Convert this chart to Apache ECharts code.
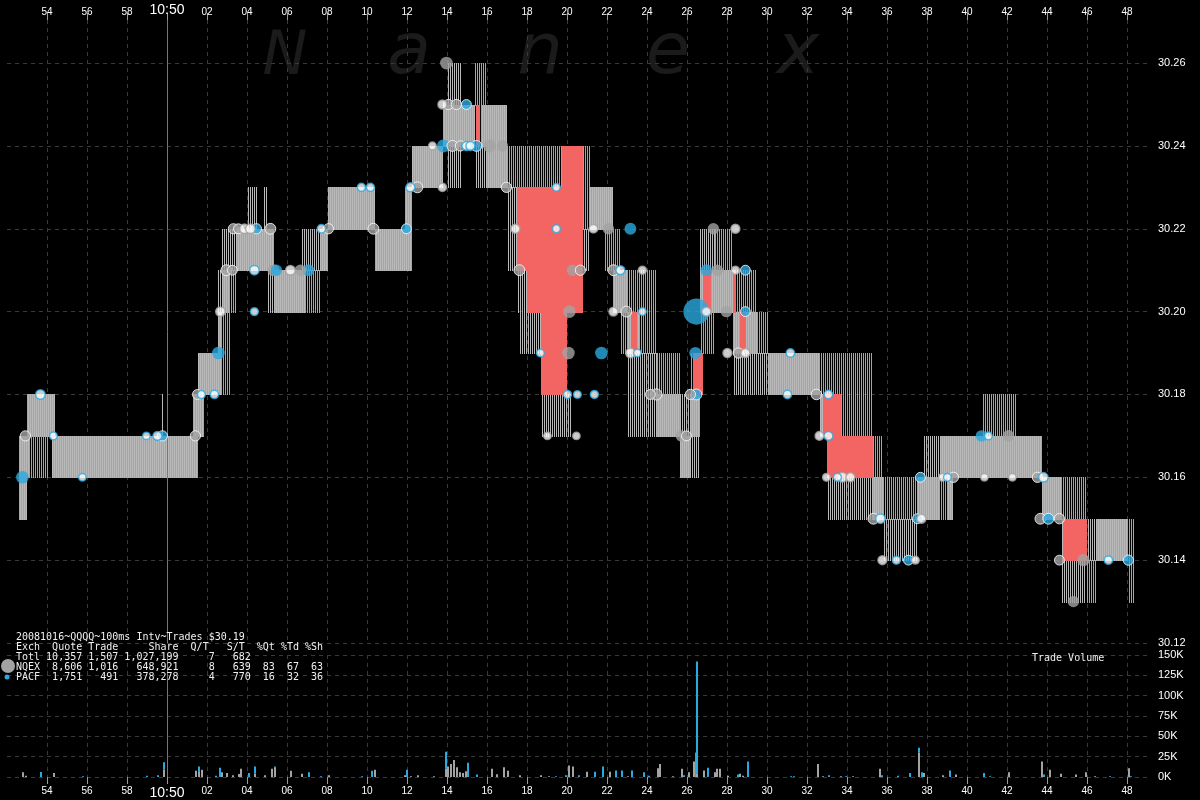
<!DOCTYPE html>
<html><head><meta charset="utf-8">
<script src="https://cdn.jsdelivr.net/npm/echarts@6/dist/echarts.min.js"></script>
<style>html,body{margin:0;padding:0;background:#000}#c{width:1200px;height:800px}</style>
</head><body><div id="c"></div>
<script>
// ---------- DATA (time = seconds after 10:49:00, price in $) ----------
const priceTicks = [30.12,30.14,30.16,30.18,30.20,30.22,30.24,30.26];

// quote segments: [start, end, NQEX low, NQEX high, PACF low, PACF high]
const quoteSegments = [
[52.62,53.02,30.15,30.17,30.15,30.17],
[53.02,53.17,30.16,30.18,30.16,30.18],
[53.17,54.07,30.17,30.18,30.16,30.18],
[54.07,54.27,30.17,30.18,30.17,30.18],
[54.27,54.42,30.16,30.18,30.16,30.18],
[54.42,59.77,30.16,30.17,30.16,30.17],
[59.77,59.87,30.16,30.18,30.16,30.17],
[59.87,61.32,30.16,30.17,30.16,30.17],
[61.32,61.57,30.16,30.18,30.16,30.18],
[61.57,61.87,30.17,30.19,30.17,30.19],
[61.87,62.57,30.18,30.19,30.18,30.19],
[62.57,62.77,30.18,30.21,30.18,30.20],
[62.77,63.17,30.20,30.22,30.18,30.21],
[63.17,63.52,30.21,30.22,30.20,30.21],
[63.52,64.07,30.21,30.22,30.21,30.22],
[64.07,64.57,30.21,30.23,30.21,30.22],
[64.57,64.87,30.21,30.22,30.21,30.22],
[64.87,65.07,30.21,30.23,30.21,30.22],
[65.07,65.37,30.20,30.22,30.21,30.22],
[65.37,66.77,30.20,30.21,30.20,30.21],
[66.77,66.97,30.20,30.22,30.20,30.21],
[66.97,67.67,30.21,30.22,30.20,30.21],
[67.67,68.07,30.21,30.22,30.21,30.22],
[68.07,70.42,30.22,30.23,30.22,30.23],
[70.42,71.92,30.21,30.22,30.21,30.22],
[71.92,72.27,30.21,30.23,30.21,30.23],
[72.27,73.82,30.23,30.24,30.23,30.24],
[73.82,74.02,30.24,30.25,30.24,30.25],
[74.02,74.77,30.23,30.26,30.24,30.25],
[74.77,75.42,30.24,30.25,30.24,30.25],
[75.42,75.72,30.23,30.24,30.25,30.26],
[75.72,75.97,30.23,30.25,30.24,30.26],
[75.97,77.02,30.23,30.25,30.23,30.25],
[77.02,77.52,30.21,30.23,30.23,30.24],
[77.52,77.67,30.20,30.23,30.23,30.24],
[77.67,78.07,30.19,30.21,30.23,30.24],
[78.07,78.72,30.19,30.20,30.23,30.24],
[78.72,79.77,30.17,30.18,30.23,30.24],
[79.77,80.27,30.17,30.18,null,null],
[80.27,80.77,30.20,30.22,null,null],
[80.77,81.17,30.21,30.22,30.22,30.24],
[81.17,81.92,30.22,30.23,30.22,30.23],
[81.92,82.32,30.22,30.23,30.21,30.23],
[82.32,82.67,30.20,30.21,30.20,30.22],
[82.67,83.07,30.20,30.21,30.19,30.21],
[83.07,83.67,30.17,30.20,30.19,30.21],
[83.67,84.52,30.17,30.19,30.19,30.21],
[84.52,85.67,30.17,30.18,30.17,30.19],
[85.67,86.17,30.16,30.18,30.16,30.17],
[86.17,86.67,30.16,30.18,30.17,30.19],
[86.67,87.42,30.20,30.22,30.19,30.21],
[87.42,88.32,30.20,30.21,30.20,30.22],
[88.32,88.57,30.18,30.20,30.19,30.21],
[88.57,89.52,30.18,30.20,30.19,30.21],
[89.52,90.07,30.18,30.19,30.19,30.20],
[90.07,92.67,30.18,30.19,30.18,30.19],
[92.67,93.02,30.17,30.18,30.17,30.19],
[93.02,93.67,30.15,30.17,30.17,30.19],
[93.67,95.27,30.15,30.16,30.17,30.19],
[95.27,95.82,30.15,30.16,30.15,30.17],
[95.82,97.52,30.14,30.15,30.15,30.16],
[97.52,97.87,30.15,30.16,30.15,30.16],
[97.87,98.67,30.15,30.17,30.15,30.16],
[98.67,99.07,30.16,30.17,30.15,30.17],
[99.07,99.32,30.15,30.17,30.15,30.17],
[99.32,100.82,30.16,30.17,30.16,30.17],
[100.82,102.47,30.16,30.17,30.16,30.18],
[102.47,103.77,30.16,30.17,30.16,30.17],
[103.77,104.77,30.15,30.16,30.15,30.16],
[104.77,105.97,30.13,30.15,30.15,30.16],
[105.97,106.52,30.14,30.15,30.13,30.14],
[106.52,108.07,30.14,30.15,30.14,30.15],
[108.07,108.37,null,null,30.13,30.15]
];

// crossed quote spans: [start, end, low, high]
const crossedSpans = [
[75.45,75.65,30.24,30.25],
[77.52,79.77,30.21,30.23],
[78.02,80.40,30.20,30.21],
[78.72,80.02,30.18,30.20],
[79.77,80.80,30.20,30.24],
[83.20,83.50,30.19,30.20],
[86.30,86.80,30.18,30.19],
[86.80,87.20,30.20,30.21],
[88.30,88.45,30.20,30.21],
[88.65,88.95,30.19,30.20],
[92.80,93.70,30.17,30.18],
[93.00,95.30,30.16,30.17],
[104.80,106.00,30.14,30.15]
];

// trades: [time, price, exchange, shares]
const trades = [
[52.77,30.16,'P',8000],[52.92,30.17,'N',3000],[53.67,30.18,'P',2000],[54.32,30.17,'P',600],
[55.77,30.16,'P',500],[58.97,30.17,'P',500],[59.52,30.17,'P',1500],[59.77,30.17,'P',3000],
[61.42,30.17,'N',3000],[61.52,30.18,'N',2500],[61.72,30.18,'P',700],[62.37,30.18,'P',900],
[62.57,30.19,'P',8000],[62.67,30.20,'N',2000],[64.37,30.20,'P',700],[62.97,30.21,'N',4000],
[63.27,30.21,'N',2500],[64.37,30.21,'P',2000],[65.32,30.21,'N',6000],[65.47,30.21,'P',5000],
[66.17,30.21,'N',2000],[66.67,30.21,'N',5000],[67.07,30.21,'P',6000],[63.32,30.22,'N',3000],
[63.57,30.22,'N',2500],[63.87,30.22,'N',2000],[64.17,30.22,'N',2000],[64.47,30.22,'P',3000],
[65.17,30.22,'N',4000],[67.72,30.22,'P',1000],[68.07,30.22,'N',3000],[69.72,30.23,'P',800],
[70.17,30.23,'P',800],[70.32,30.22,'N',4000],[71.97,30.22,'P',2500],[72.17,30.23,'P',1500],
[72.52,30.23,'N',4000],[73.77,30.23,'N',1000],[73.27,30.24,'N',600],[73.82,30.24,'P',9000],
[74.27,30.24,'N',4000],[74.67,30.24,'N',3000],[74.97,30.24,'P',1500],[75.17,30.24,'P',1500],
[75.47,30.24,'P',4000],[76.12,30.24,'N',9000],[76.77,30.24,'N',5000],[73.77,30.25,'N',1500],
[74.07,30.25,'N',3000],[74.47,30.25,'N',3000],[74.97,30.25,'P',2500],[73.97,30.26,'N',8000],
[76.97,30.23,'N',3000],[79.47,30.23,'P',600],[79.47,30.22,'P',700],[77.42,30.22,'N',1500],
[77.62,30.21,'N',4000],[80.27,30.21,'N',5000],[80.67,30.21,'N',3000],[81.32,30.22,'N',1200],
[82.07,30.22,'N',5000],[83.17,30.22,'P',6000],[80.12,30.20,'N',8000],[80.07,30.19,'N',8000],
[81.72,30.19,'P',8000],[78.67,30.19,'P',600],[80.02,30.18,'P',800],[80.52,30.18,'P',600],
[81.37,30.18,'P',800],[79.02,30.17,'N',500],[80.47,30.17,'N',500],[82.32,30.21,'N',4000],
[82.67,30.21,'P',1500],[83.77,30.21,'N',800],[82.32,30.20,'N',1500],[82.97,30.20,'N',4000],
[83.77,30.20,'P',600],[83.17,30.19,'N',2000],[83.52,30.19,'P',600],[86.47,30.20,'P',138000],
[86.97,30.20,'N',1500],[86.97,30.21,'P',6000],[87.52,30.21,'N',5000],[88.42,30.21,'N',800],
[88.92,30.21,'P',2500],[87.32,30.22,'N',5000],[88.42,30.22,'N',1500],[87.97,30.20,'N',5000],
[88.92,30.20,'P',2500],[86.42,30.19,'P',7000],[88.02,30.19,'N',1500],[88.57,30.19,'N',3000],
[88.92,30.19,'N',1500],[91.17,30.19,'P',1000],[85.72,30.17,'N',5000],[85.97,30.17,'N',2500],
[86.47,30.18,'P',4000],[86.17,30.18,'N',3000],[84.47,30.18,'N',4500],[84.17,30.18,'N',2500],
[91.02,30.18,'P',1000],[92.47,30.18,'N',3500],[93.07,30.18,'P',1000],[92.62,30.17,'N',1200],
[93.07,30.17,'P',1500],[92.97,30.16,'N',600],[93.52,30.16,'P',800],[93.77,30.16,'N',2000],
[94.17,30.16,'N',1500],[97.67,30.16,'P',2500],[98.77,30.16,'N',600],[99.02,30.16,'P',600],
[99.32,30.16,'N',3000],[100.87,30.16,'N',500],[102.27,30.16,'N',500],[103.52,30.16,'N',3000],
[103.82,30.16,'P',2000],[100.72,30.17,'P',5000],[101.07,30.17,'P',600],[102.07,30.17,'N',6000],
[95.32,30.15,'N',4000],[95.67,30.15,'P',2000],[97.52,30.15,'P',2500],[97.72,30.15,'N',1500],
[95.77,30.14,'N',1500],[96.47,30.14,'P',800],[97.07,30.14,'P',2500],[97.42,30.14,'N',600],
[103.67,30.15,'N',4000],[104.07,30.15,'P',4000],[104.62,30.15,'N',3000],[104.62,30.14,'N',2500],
[105.82,30.14,'N',7000],[107.07,30.14,'P',1000],[108.07,30.14,'P',3000],[105.32,30.13,'N',5000]
];

// trade volume per 100ms interval: [time, NQEX shares, PACF shares]
const volumes = [
[52.77,5700,0],[52.92,1500,0],[53.67,0,6000],[54.32,5000,0],[55.77,0,1000],[58.97,0,1600],
[59.52,0,2000],[59.82,9000,9000],[61.42,7800,0],[61.57,6000,7000],[61.72,9000,0],[62.42,0,1500],
[62.62,0,11500],[62.72,5700,0],[62.97,5000,0],[63.27,2000,0],[63.57,3700,0],[63.67,10000,0],
[64.07,0,5000],[64.37,4000,9000],[64.87,2000,0],[65.22,10000,0],[65.37,11000,2000],[66.17,7800,0],
[66.72,4000,0],[67.07,0,5700],[67.67,0,1000],[68.07,2000,0],[69.72,0,1000],[70.22,0,7800],
[70.37,9000,0],[71.87,2000,0],[71.97,0,9000],[72.17,1000,0],[72.52,2000,0],[73.32,1000,0],
[73.92,10000,21000],[74.02,13000,0],[74.17,16000,0],[74.32,21000,0],[74.47,12000,0],[74.62,5700,0],
[74.77,5000,0],[74.92,7000,0],[75.02,0,17600],[75.47,0,3000],[76.22,10000,0],[76.47,3500,0],
[76.82,12000,0],[77.02,7800,0],[77.62,2000,0],[78.67,2000,0],[79.07,1000,0],[79.42,0,1000],
[79.92,0,2000],[80.07,14000,0],[80.27,13000,0],[80.57,0,2000],[80.97,6500,0],[81.37,0,6500],
[81.77,0,13000],[82.12,6500,0],[82.42,0,8000],[82.72,0,8000],[83.02,1000,0],[83.22,0,8000],
[83.82,0,5700],[84.07,0,1600],[84.52,10700,0],[84.62,16000,0],[85.27,1000,0],[85.72,10000,0],
[85.82,0,2000],[86.07,5700,0],[86.32,19000,0],[86.42,0,30000],[86.47,4000,138000],[86.82,8000,0],
[87.02,0,11500],[87.37,5700,0],[87.47,10000,0],[87.62,10000,0],[88.02,1500,0],[88.52,0,3000],
[88.62,4000,0],[88.77,1500,0],[89.02,0,19000],[91.17,0,1000],[91.32,0,1000],[92.52,16000,0],
[92.77,1000,0],[93.07,0,2000],[93.67,1000,0],[93.92,0,1000],[94.27,1000,0],[95.62,10000,0],
[95.72,0,2000],[96.52,0,1500],[97.12,0,5000],[97.57,30000,6000],[97.72,0,5700],[97.82,5000,0],
[98.77,2000,0],[99.12,0,8000],[99.42,3000,0],[100.82,0,5000],[101.12,0,1000],[102.07,5700,0],
[103.72,19000,0],[103.82,0,3000],[104.12,9000,0],[104.67,4000,0],[105.42,3000,0],[105.92,5700,0],
[106.37,1000,0],[107.12,0,1000],[108.07,10700,0],[108.17,0,1000]
];

const tableTitle = '20081016~QQQQ~100ms Intv~Trades $30.19';
const tableHeader = ['Exch','Quote','Trade','Share','Q/T','S/T','%Qt','%Td','%Sh'];
const tableRows = [
['Totl','10,357','1,507','1,027,199','7','682','','',''],
['NQEX','8,606','1,016','648,921','8','639','83','67','63'],
['PACF','1,751','491','378,278','4','770','16','32','36']
];
const watermark = ['N','a','n','e','x'];

// ---------- STYLE ----------
const Q_GRAY='#b9b9b9', Q_CYAN='#4cc4ee', RED='#f36562', DOT_GRAY='#a3a3a3', DOT_CYAN='#2aa9e0';
const GRID_LINE={color:'#3a3a3a',type:[4,4],width:1};

function fmtTime(v){const s=Math.round(v); if(s===60) return '{big|10:50}'; return String(s%60).padStart(2,'0');}
function pad(row, ends){
  let s=row[0].padEnd(4,' ');
  for(let i=1;i<row.length;i++){ s=s.padEnd(ends[i]-row[i].length,' ')+row[i]; }
  return s;
}
const headEnds=[4,11,17,27,32,38,43,47,51];
const rowEnds=[4,11,17,27,33,39,43,47,51];
const tableLines=[tableTitle, pad(tableHeader,headEnds)].concat(tableRows.map(r=>pad(r,rowEnds).replace(/\s+$/,'')));

// 1-px column patterns: NQEX quote on even pixel columns, PACF on odd ones
function makePattern(color, parity){
  const c=document.createElement('canvas'); c.width=2; c.height=1;
  const g=c.getContext('2d'); g.fillStyle=color; g.fillRect(parity,0,1,1);
  return {image:c, repeat:'repeat'};
}
const patN=makePattern(Q_GRAY,0), patP=makePattern(Q_CYAN,1);
function makeQuoteRenderer(isP){
  return function(params, api){
    const seg=quoteSegments[params.dataIndex];
    const lo=isP?seg[4]:seg[2], hi=isP?seg[5]:seg[3];
    if(lo==null) return {type:'group',children:[]};
    const x0=Math.round(api.coord([seg[0],lo])[0]), x1=Math.round(api.coord([seg[1],lo])[0]);
    const yt=Math.round(api.coord([seg[0],hi])[1]), yb=Math.round(api.coord([seg[0],lo])[1]);
    return {type:'rect',shape:{x:x0,y:yt,width:x1-x0,height:yb-yt+1},style:{fill:isP?patP:patN}};
  };
}
function renderCross(params, api){
  const c=crossedSpans[params.dataIndex];
  const p0=api.coord([c[0],c[3]]), p1=api.coord([c[1],c[2]]);
  const x0=Math.round(p0[0]), x1=Math.round(p1[0]), y0=Math.round(p0[1]), y1=Math.round(p1[1]);
  return {type:'rect',shape:{x:x0,y:y0,width:x1-x0,height:y1-y0+1},style:{fill:RED}};
}
function renderVol(params, api){
  const v=volumes[params.dataIndex];
  const base=api.coord([v[0],0]);
  const x=Math.round(base[0]);
  const yN=api.coord([v[0],v[1]])[1];
  const yP=api.coord([v[0],v[1]+v[2]])[1];
  const kids=[];
  if(v[1]>0) kids.push({type:'rect',shape:{x:x,y:yN,width:2,height:base[1]-yN},style:{fill:DOT_GRAY}});
  if(v[2]>0) kids.push({type:'rect',shape:{x:x,y:yP,width:2,height:yN-yP},style:{fill:DOT_CYAN}});
  return {type:'group',children:kids};
}

const tradeData=trades.slice().sort((a,b)=>b[3]-a[3]).map(([t,p,ex,sz])=>{
  const col=ex==='N'?DOT_GRAY:DOT_CYAN;
  const r=2+Math.pow(sz,0.33)/4.5;
  return {value:[t,p],symbolSize:2*r,
    itemStyle: sz>=2500?{color:col,borderColor:'#ffffff',borderWidth:sz>=5000?0:1}:{color:'#ffffff',borderColor:col,borderWidth:1.5}};
});

const xAxisBase={type:'value',min:52,max:109,interval:2,
  axisLine:{show:false},
  axisTick:{show:true,length:7,lineStyle:{color:'#9a9a9a'}},
  splitLine:{show:true,showMinLine:false,showMaxLine:false,lineStyle:GRID_LINE}};

const wmX=[285,409,540,668,798];
const graphics=[];
watermark.forEach((ch,i)=>graphics.push({type:'text',z:-10,x:wmX[i],y:i===0?88:90,
  style:{text:ch,fill:'#1b1b1b',font:'italic '+(i===0?60:72)+'px "DejaVu Sans"',textAlign:'center',textVerticalAlign:'bottom'}}));
tableLines.forEach((ln,i)=>graphics.push({type:'text',z:100,x:16,y:637+i*10,
  style:{text:ln,fill:'#f0f0f0',font:'10px "DejaVu Sans Mono"',textVerticalAlign:'middle'}}));
graphics.push({type:'circle',z:100,shape:{cx:8,cy:666,r:7},style:{fill:DOT_GRAY}});
graphics.push({type:'circle',z:100,shape:{cx:7,cy:677,r:2.5},style:{fill:DOT_CYAN}});
graphics.push({type:'text',z:100,x:1032,y:658,style:{text:'Trade Volume',fill:'#f0f0f0',font:'10px "DejaVu Sans Mono"',textVerticalAlign:'middle'}});

const minuteLine={silent:true,symbol:'none',label:{show:false},lineStyle:{color:'#777',type:'solid',width:1},data:[{xAxis:60}]};
const segData=quoteSegments.map(s=>{const v=[s[2],s[3],s[4],s[5]].filter(x=>x!=null);return [s[0],s[1],Math.min(...v),Math.max(...v)];});

const chart=echarts.init(document.getElementById('c'),null,{renderer:'canvas'});
chart.setOption({
  backgroundColor:'#000',
  animation:false,
  grid:[{left:7,width:1140,top:20,height:623},{left:7,width:1140,top:655,height:122}],
  xAxis:[
    Object.assign({},xAxisBase,{gridIndex:0,position:'top',
      axisLabel:{color:'#fff',fontSize:10,margin:3,showMinLabel:false,showMaxLabel:false,formatter:fmtTime,
        rich:{big:{fontSize:14,color:'#fff'}}}}),
    Object.assign({},xAxisBase,{gridIndex:1,position:'bottom',
      axisLabel:{color:'#fff',fontSize:10,margin:9,showMinLabel:false,showMaxLabel:false,formatter:fmtTime,
        rich:{big:{fontSize:14,color:'#fff'}}}})
  ],
  yAxis:[
    {gridIndex:0,type:'value',position:'right',min:priceTicks[0],max:30.2704,interval:0.02,
     axisLine:{show:false},axisTick:{show:false},
     axisLabel:{color:'#fff',fontSize:11,margin:11,showMaxLabel:false,
       formatter:v=>priceTicks.some(p=>Math.abs(p-v)<1e-6)?v.toFixed(2):''},
     splitLine:{show:true,showMaxLine:false,lineStyle:GRID_LINE}},
    {gridIndex:1,type:'value',position:'right',min:0,max:150000,interval:25000,
     axisLine:{show:false},axisTick:{show:false},
     axisLabel:{color:'#fff',fontSize:11,margin:11,formatter:v=>(v/1000)+'K'},
     splitLine:{show:true,lineStyle:GRID_LINE}}
  ],
  graphic:graphics,
  series:[
    {type:'custom',name:'NQEX quote',xAxisIndex:0,yAxisIndex:0,z:3,
     data:segData,encode:{x:[0,1],y:[2,3]},renderItem:makeQuoteRenderer(false),markLine:minuteLine},
    {type:'custom',name:'PACF quote',xAxisIndex:0,yAxisIndex:0,z:3,
     data:segData,encode:{x:[0,1],y:[2,3]},renderItem:makeQuoteRenderer(true)},
    {type:'custom',name:'Crossed',xAxisIndex:0,yAxisIndex:0,z:4,
     data:crossedSpans.map(c=>c.slice()),encode:{x:[0,1],y:[2,3]},renderItem:renderCross},
    {type:'scatter',name:'Trades',xAxisIndex:0,yAxisIndex:0,z:5,symbol:'circle',data:tradeData},
    {type:'custom',name:'Volume',xAxisIndex:1,yAxisIndex:1,z:3,
     data:volumes.map(v=>[v[0],v[1]+v[2]]),encode:{x:0,y:1},renderItem:renderVol,markLine:minuteLine}
  ]
});
</script></body></html>
